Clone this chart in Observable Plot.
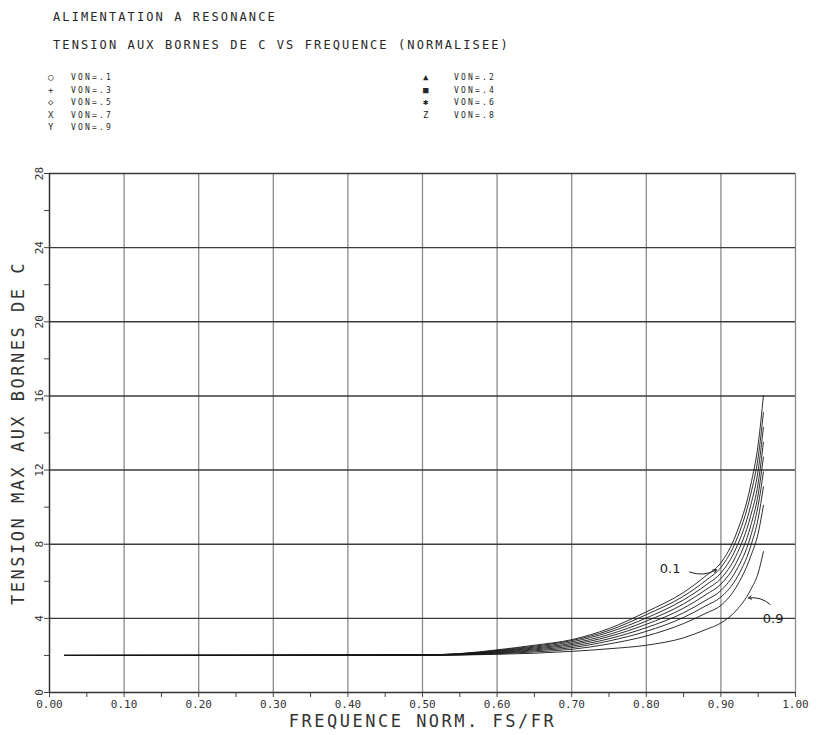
<!DOCTYPE html>
<html>
<head>
<meta charset="utf-8">
<script src="https://cdn.jsdelivr.net/npm/d3@7"></script>
<script src="https://cdn.jsdelivr.net/npm/@observablehq/plot@0.6"></script>
<style>
  body { margin: 0; background: #fff; }
  #wrap { position: relative; width: 822px; height: 735px; overflow: hidden; }
  #wrap svg { position: absolute; left: 0; top: 0; }
  .hdr { position: absolute; font-family: "DejaVu Sans Mono", monospace; color: #262626; white-space: pre; line-height: 1; }
  .title { font-size: 12px; letter-spacing: 2.1px; left: 53px; }
  .leg { font-size: 8px; letter-spacing: 2.2px; }
  .sym { font-size: 9px; }
  .axt { letter-spacing: 2.5px; }
</style>
</head>
<body>
<div id="wrap"></div>
<script>
// Header text
const titleLines = [
  "ALIMENTATION A RESONANCE",
  "TENSION AUX BORNES DE C VS FREQUENCE (NORMALISEE)"
];

// Curve parameter (VON) and the legend that lists it
const vonLevels = [0.1, 0.2, 0.3, 0.4, 0.5, 0.6, 0.7, 0.8, 0.9];
const legendLabels = ["VON=.1", "VON=.2", "VON=.3", "VON=.4", "VON=.5", "VON=.6", "VON=.7", "VON=.8", "VON=.9"];
const legendSymbols = ["\u25CB", "\u25B2", "+", "\u25A0", "\u25C7", "\u2731", "X", "Z", "Y"];

// Normalised frequency FS/FR at which each curve is sampled
const freq = [0.02, 0.50, 0.55, 0.60, 0.65, 0.70, 0.75, 0.80, 0.85, 0.88, 0.90, 0.92, 0.94, 0.95, 0.957];

// Maximum voltage across C for each VON
const von01 = [2.00, 2.03, 2.10, 2.30, 2.55, 2.85, 3.45, 4.35, 5.40, 6.30, 7.00, 8.50, 11.2, 13.4, 16.0];
const von02 = [2.00, 2.03, 2.09, 2.27, 2.50, 2.80, 3.35, 4.20, 5.20, 6.05, 6.75, 8.15, 10.7, 12.7, 15.1];
const von03 = [2.00, 2.02, 2.08, 2.24, 2.45, 2.73, 3.25, 4.02, 5.00, 5.80, 6.45, 7.75, 10.1, 12.0, 14.3];
const von04 = [2.00, 2.02, 2.07, 2.21, 2.40, 2.65, 3.13, 3.85, 4.78, 5.55, 6.15, 7.35, 9.55, 11.3, 13.5];
const von05 = [2.00, 2.02, 2.06, 2.18, 2.35, 2.58, 3.02, 3.68, 4.55, 5.28, 5.85, 6.95, 9.00, 10.7, 12.7];
const von06 = [2.00, 2.01, 2.05, 2.15, 2.30, 2.50, 2.90, 3.50, 4.30, 4.98, 5.50, 6.55, 8.45, 10.1, 11.9];
const von07 = [2.00, 2.01, 2.04, 2.12, 2.25, 2.42, 2.78, 3.30, 4.05, 4.68, 5.15, 6.10, 7.90, 9.40, 11.1];
const von08 = [2.00, 2.01, 2.03, 2.09, 2.19, 2.33, 2.62, 3.05, 3.72, 4.28, 4.70, 5.65, 7.35, 8.60, 10.1];
const von09 = [2.00, 2.00, 2.02, 2.06, 2.12, 2.22, 2.36, 2.55, 2.95, 3.40, 3.75, 4.40, 5.55, 6.45, 7.60];
const curves = [von01, von02, von03, von04, von05, von06, von07, von08, von09];

// Axes
const xTicks = [0.0, 0.1, 0.2, 0.3, 0.4, 0.5, 0.6, 0.7, 0.8, 0.9, 1.0];
const xTickLabels = ["0.00", "0.10", "0.20", "0.30", "0.40", "0.50", "0.60", "0.70", "0.80", "0.90", "1.00"];
const xMinorTicks = [0.05, 0.15, 0.25, 0.35, 0.45, 0.55, 0.65, 0.75, 0.85, 0.95];
const yTicks = [0, 4, 8, 12, 16, 20, 24, 28];
const yTickLabels = ["0", "4", "8", "12", "16", "20", "24", "28"];
const yMinorTicks = [2, 6, 10, 14, 18, 22, 26];
const xTitle = "FREQUENCE NORM. FS/FR";
const yTitle = "TENSION MAX AUX BORNES DE C";

// Hand-written notes on the first and last curves
const noteLabels = ["0.1", "0.9"];
const noteX = [0.832, 0.970];
const noteY = [6.66, 3.95];
const arrowFromX = [0.858, 0.966];
const arrowFromY = [6.50, 4.75];
const arrowToX = [0.894, 0.937];
const arrowToY = [6.62, 5.10];

const rows = vonLevels.flatMap((von, i) => freq.map((f, j) => ({von, f, v: curves[i][j]})));
const notes = noteLabels.map((label, i) => ({
  label, x: noteX[i], y: noteY[i],
  x1: arrowFromX[i], y1: arrowFromY[i], x2: arrowToX[i], y2: arrowToY[i]
}));

const mono = '"DejaVu Sans Mono", monospace';

const chart = Plot.plot({
  width: 822,
  height: 735,
  marginTop: 173,
  marginRight: 27,
  marginBottom: 43,
  marginLeft: 49,
  style: {fontFamily: mono, background: "transparent", color: "#2a2a2a", overflow: "visible"},
  x: {domain: [0, 1]},
  y: {domain: [0, 28]},
  marks: [
    // grid
    Plot.ruleX(xTicks.slice(1), {x: d => d, stroke: "#8a8a8a", strokeWidth: 1.3}),
    Plot.ruleY(yTicks.slice(1), {y: d => d, stroke: "#3a3a3a", strokeWidth: 1.4}),
    // axis lines
    Plot.ruleX([0], {x: d => d, stroke: "#333", strokeWidth: 1.5}),
    Plot.ruleY([0], {y: d => d, stroke: "#333", strokeWidth: 1.6}),
    // tick marks
    Plot.axisX({ticks: xTicks.concat(xMinorTicks), tickSize: 5, tickFormat: () => "", label: null, stroke: "#444"}),
    Plot.axisY({ticks: yTicks.concat(yMinorTicks), tickSize: 5, tickFormat: () => "", label: null, stroke: "#444"}),
    // tick labels
    Plot.text(xTicks, {x: d => d, y: 0, text: (d, i) => xTickLabels[i], dy: 12, fontSize: 11, fill: "#333", lineAnchor: "middle"}),
    Plot.text(yTicks, {x: 0, y: d => d, text: (d, i) => yTickLabels[i], dx: -10, rotate: -90, fontSize: 11, fill: "#333", lineAnchor: "middle", textAnchor: "middle"}),
    // axis titles
    Plot.text([xTitle], {text: d => d, frameAnchor: "bottom", dy: 29, fontSize: 17, fill: "#333", lineAnchor: "middle", textAnchor: "middle", className: "axt"}),
    Plot.text([yTitle], {text: d => d, frameAnchor: "left", dx: -31, rotate: -90, fontSize: 17, fill: "#333", lineAnchor: "middle", textAnchor: "middle", className: "axt"}),
    // curves
    Plot.line(rows, {x: "f", y: "v", z: "von", stroke: "#151515", strokeWidth: 0.9, curve: "monotone-x"}),
    // notes
    Plot.arrow(notes, {x1: "x1", y1: "y1", x2: "x2", y2: "y2", bend: -25, headLength: 5, stroke: "#222", strokeWidth: 1}),
    Plot.text(notes, {x: "x", y: "y", text: "label", fontSize: 13, fontFamily: '"DejaVu Sans", sans-serif', fill: "#222"})
  ]
});

const wrap = document.getElementById("wrap");
wrap.appendChild(chart);

// Header: title lines
const titleTops = [11, 39];
titleLines.forEach((t, i) => {
  const d = document.createElement("div");
  d.className = "hdr title";
  d.style.top = titleTops[i] + "px";
  d.textContent = t;
  wrap.appendChild(d);
});

// Header: two-column legend
legendLabels.forEach((label, i) => {
  const col = i % 2, row = Math.floor(i / 2);
  const top = 73 + row * 12.6;
  const s = document.createElement("div");
  s.className = "hdr sym";
  s.style.left = (col ? 423 : 48) + "px";
  s.style.top = top + "px";
  s.textContent = legendSymbols[i];
  wrap.appendChild(s);
  const l = document.createElement("div");
  l.className = "hdr leg";
  l.style.left = (col ? 454 : 71) + "px";
  l.style.top = (top + 1) + "px";
  l.textContent = label;
  wrap.appendChild(l);
});
</script>
</body>
</html>
